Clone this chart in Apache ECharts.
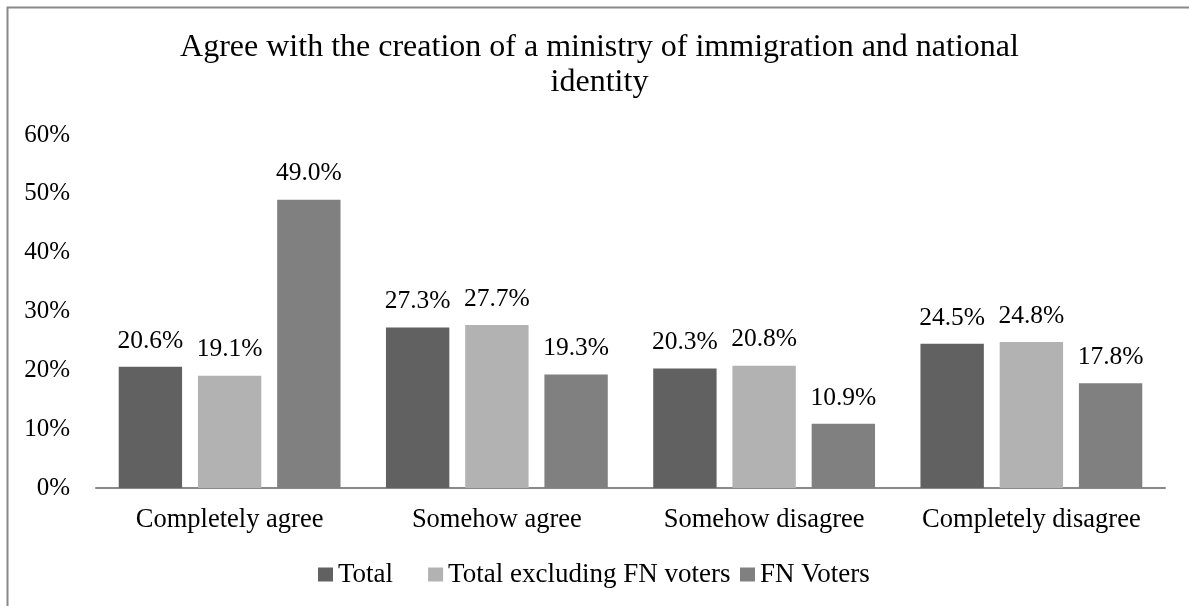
<!DOCTYPE html>
<html>
<head>
<meta charset="utf-8">
<script src="https://cdn.jsdelivr.net/npm/echarts@6/dist/echarts.min.js"></script>
<style>
  html, body { margin: 0; padding: 0; background: #fff; overflow: hidden; }
  #chart { width: 1189px; height: 606px; }
</style>
</head>
<body>
<div id="chart"></div>
<script>
// Survey answers by group (percent of respondents)
const categories = ['Completely agree', 'Somehow agree', 'Somehow disagree', 'Completely disagree'];
const seriesNames = ['Total', 'Total excluding FN voters', 'FN Voters'];
const totalValues = [20.6, 27.3, 20.3, 24.5];
const excludingFnValues = [19.1, 27.7, 20.8, 24.8];
const fnVoterValues = [49.0, 19.3, 10.9, 17.8];
const yTicks = [0, 10, 20, 30, 40, 50, 60];

const seriesValues = [totalValues, excludingFnValues, fnVoterValues];
const seriesColors = ['#616161', '#b2b2b2', '#808080'];
const FONT = "'Liberation Serif', 'Times New Roman', serif";

const chart = echarts.init(document.getElementById('chart'), null, { renderer: 'canvas' });

// Shared legend styling; the legend row is split in two so the last entry sits closer
const legendBase = {
  top: 561,
  padding: 0,
  icon: 'rect',
  itemWidth: 15,
  itemHeight: 14,
  itemGap: 35,
  textStyle: { fontFamily: FONT, fontSize: 27, color: '#000' }
};

chart.setOption({
  backgroundColor: '#ffffff',
  animation: false,
  title: {
    text: 'Agree with the creation of a ministry of immigration and national\nidentity',
    left: 599.5,
    top: 30,
    padding: 0,
    textAlign: 'center',
    textStyle: {
      fontFamily: FONT,
      fontWeight: 'normal',
      fontSize: 32,
      color: '#000',
      lineHeight: 35
    }
  },
  legend: [
    Object.assign({}, legendBase, { data: seriesNames.slice(0, 2), left: 318 }),
    Object.assign({}, legendBase, { data: seriesNames.slice(2), left: 740 })
  ],
  graphic: [{
    type: 'rect',
    shape: { x: 7.5, y: 7.5, width: 1400, height: 800 },
    style: { fill: 'none', stroke: '#898989', lineWidth: 2 },
    silent: true
  }],
  grid: { left: 96, right: 24, top: 135, bottom: 118, containLabel: false },
  xAxis: {
    type: 'category',
    data: categories,
    axisLine: { show: true, lineStyle: { color: '#898989', width: 2 } },
    axisTick: { show: false },
    axisLabel: { interval: 0, fontFamily: FONT, fontSize: 26.5, color: '#000', margin: 19 }
  },
  yAxis: {
    type: 'value',
    min: yTicks[0],
    max: yTicks[yTicks.length - 1],
    interval: yTicks[1] - yTicks[0],
    axisLine: { show: false },
    axisTick: { show: false },
    splitLine: { show: false },
    axisLabel: { fontFamily: FONT, fontSize: 25, color: '#000', margin: 26, formatter: '{value}%' }
  },
  series: seriesNames.map((name, i) => ({
    name: name,
    type: 'bar',
    data: seriesValues[i],
    barGap: '25%',
    barCategoryGap: '17%',
    itemStyle: { color: seriesColors[i] },
    label: {
      show: true,
      position: 'top',
      distance: 13,
      fontFamily: FONT,
      fontSize: 25.5,
      color: '#000',
      formatter: p => p.value.toFixed(1) + '%'
    }
  }))
});
</script>
</body>
</html>
